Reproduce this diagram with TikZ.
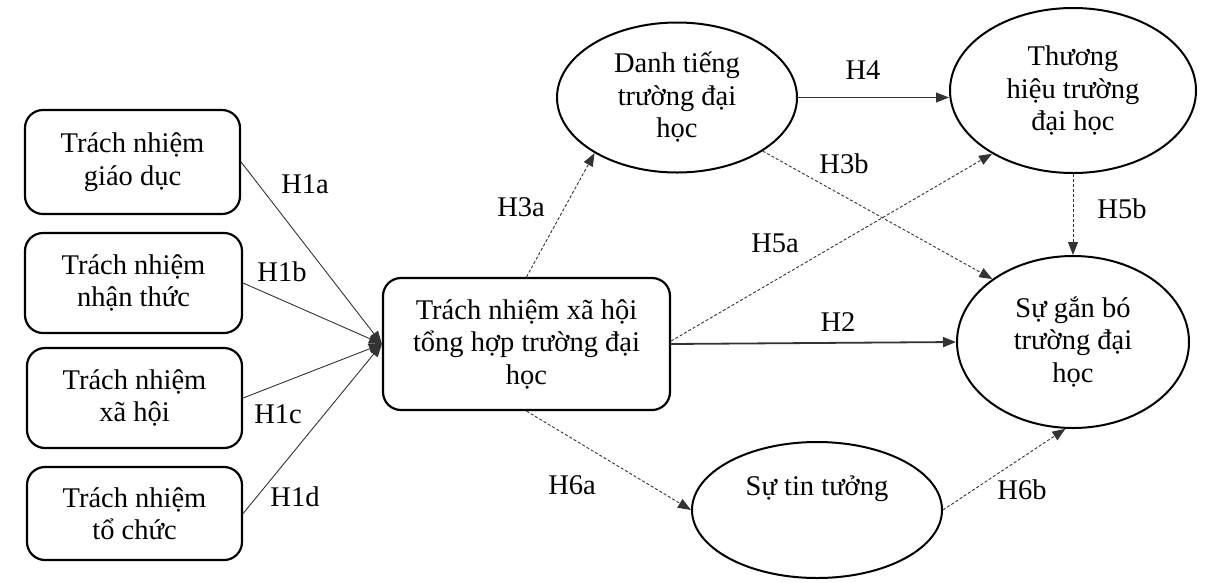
\documentclass[tikz,border=0pt]{standalone}
\usepackage{fontspec}
\setmainfont{Liberation Serif}
\usetikzlibrary{arrows.meta,shapes.geometric}
\begin{document}
\begin{tikzpicture}[x=1pt,y=-1pt,
 txt/.style={font=\fontsize{28.5}{32.5}\selectfont, align=center},
 rbox/.style={txt, draw, line width=2.2pt, rounded corners=18pt, inner sep=0pt},
 ell/.style={txt, draw, ellipse, line width=2pt, inner sep=0pt},
 lab/.style={font=\fontsize{28.5}{32.5}\selectfont, inner sep=0pt},
 arr/.style={draw=black!80, line width=0.9pt, -{Triangle[length=13pt,width=10pt]}},
 darr/.style={arr, dash pattern=on 3pt off 2pt}
]
\useasboundingbox (0,0) rectangle (1232,582);

% left boxes
\node[rbox, minimum width=215pt, minimum height=104pt] (b1) at (132.5,162) {Trách nhiệm\\giáo dục};
\node[rbox, minimum width=217pt, minimum height=100pt] (b2) at (133.5,283) {Trách nhiệm\\nhận thức};
\node[rbox, minimum width=215pt, minimum height=100pt] (b3) at (134.5,398) {Trách nhiệm\\xã hội};
\node[rbox, minimum width=215pt, minimum height=93pt] (b4) at (134.5,513.5) {Trách nhiệm\\tổ chức};

% central box
\node[rbox, minimum width=287pt, minimum height=132pt] (c) at (526.5,344) {Trách nhiệm xã hội\\tổng hợp trường đại\\học};

% ellipses
\node[ell, minimum width=240pt, minimum height=150pt] (d) at (677,97.5) {Danh tiếng\\trường đại\\học};
\node[ell, minimum width=246pt, minimum height=165pt] (t) at (1073,90.5) {Thương\\hiệu trường\\đại học};
\node[ell, minimum width=232pt, minimum height=172pt] (g) at (1073,342) {Sự gắn bó\\trường đại\\học};
\node[ell, minimum width=250pt, minimum height=136pt,
      label={[lab, yshift=21pt]center:Sự tin tưởng}] (n) at (817,510) {};

% connectors
\draw[arr] (b1.east) -- (c.west);
\draw[arr] (b2.east) -- (c.west);
\draw[arr] (b3.east) -- (c.west);
\draw[arr] (b4.east) -- (c.west);
\draw[darr] (c.north) -- (d.214);
\draw[arr] (d.east) -- (d.east -| t.west);
\draw[darr] (d.328) -- (g.142);
\draw[darr] ([yshift=3pt]c.east) -- (t.218);
\draw[arr, line width=1.8pt] (c.east) -- (g.west);
\draw[darr] (t.south) -- (t.south |- g.north);
\draw[darr] (c.south) -- (n.west);
\draw[darr] (n.east) -- (g.265);

% labels
\node[lab] (l1a) at (305,184) {H1a};
\node[lab] (l1b) at (282,272) {H1b};
\node[lab] (l1c) at (278,414) {H1c};
\node[lab] (l1d) at (295,497) {H1d};
\node[lab] (l3a) at (521,207) {H3a};
\node[lab] (l4) at (863,70) {H4};
\node[lab] (l3b) at (844,164) {H3b};
\node[lab] (l5a) at (775,243) {H5a};
\node[lab] (l2) at (838,322) {H2};
\node[lab] (l5b) at (1122,209) {H5b};
\node[lab] (l6a) at (572,485) {H6a};
\node[lab] (l6b) at (1022,490) {H6b};
\end{tikzpicture}
\end{document}
